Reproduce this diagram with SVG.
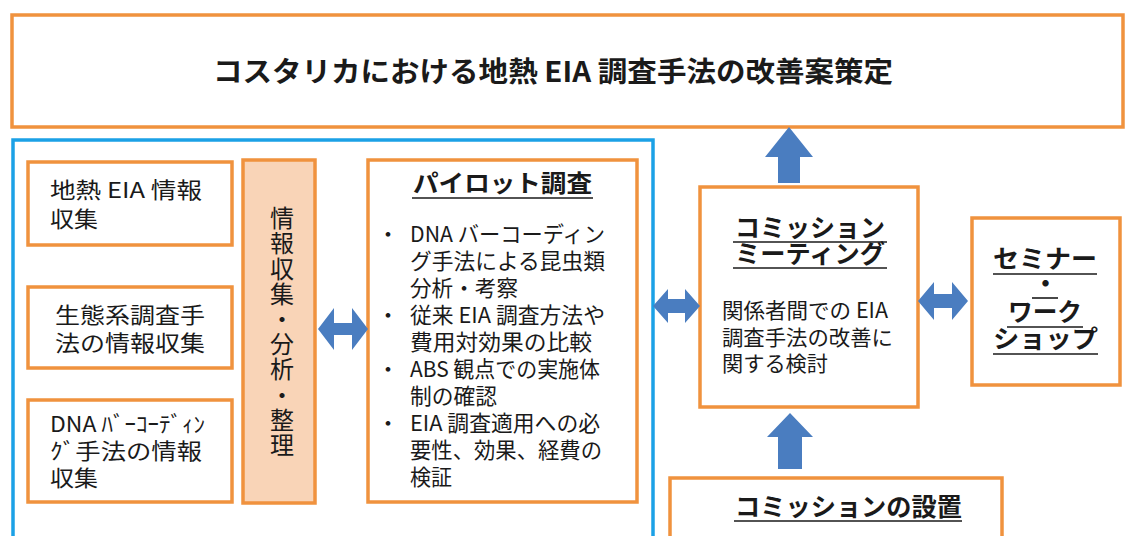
<svg xmlns="http://www.w3.org/2000/svg" width="1129" height="536" viewBox="0 0 1129 536">
<style>
.box{fill:#ffffff;stroke:#F0923E;stroke-width:3.5}
.peach{fill:#F9D4B7;stroke:#F0923E;stroke-width:3.5}
.frame{fill:none;stroke:#1BA1E6;stroke-width:3.5}
.arrow{fill:#4A7DC0}
.ul{stroke:#1a1a1a;stroke-width:1.6}
text{font-family:"Noto Sans CJK JP","Noto Sans CJK SC",sans-serif;fill:#1a1a1a}
.t{font-size:22px}
.b{font-weight:bold}
</style>
<rect width="1129" height="536" fill="#ffffff"/>
<g id="frame"><rect class="frame" x="13" y="140" width="640" height="420"/></g>
<g id="title">
<rect class="box" x="12" y="15" width="1111" height="112"/>
<text x="213" y="82" font-size="28" class="b" textLength="680" lengthAdjust="spacingAndGlyphs">コスタリカにおける地熱 EIA 調査手法の改善案策定</text>
</g>
<g id="geo-eia">
<rect class="box" x="28" y="162" width="204" height="83"/>
<text class="t"><tspan x="50" y="198" textLength="152" lengthAdjust="spacingAndGlyphs">地熱 EIA 情報</tspan><tspan x="50" y="227" textLength="48" lengthAdjust="spacingAndGlyphs">収集</tspan></text>
</g>
<g id="eco">
<rect class="box" x="28" y="287" width="204" height="81"/>
<text class="t"><tspan x="55" y="323" textLength="150" lengthAdjust="spacingAndGlyphs">生態系調査手</tspan><tspan x="55" y="351" textLength="150" lengthAdjust="spacingAndGlyphs">法の情報収集</tspan></text>
</g>
<g id="dna">
<rect class="box" x="28" y="400" width="204" height="102"/>
<text class="t"><tspan x="50" y="432" textLength="155" lengthAdjust="spacingAndGlyphs">DNA ﾊﾞｰｺｰﾃﾞｨﾝ</tspan><tspan x="50" y="459" textLength="152" lengthAdjust="spacingAndGlyphs">ｸﾞ手法の情報</tspan><tspan x="50" y="486" textLength="48" lengthAdjust="spacingAndGlyphs">収集</tspan></text>
</g>
<g id="analysis">
<rect class="peach" x="243" y="160" width="72" height="343"/>
<text x="282" y="206" font-size="24" style="writing-mode:vertical-rl" letter-spacing="1.2">情報収集・分析・整理</text>
</g>
<g id="pilot">
<rect class="box" x="368" y="160" width="269" height="342"/>
<text x="413" y="192" font-size="24" class="b" textLength="179" lengthAdjust="spacingAndGlyphs">パイロット調査</text>
<line class="ul" x1="412" y1="198" x2="593" y2="198"/>
<text class="t"><tspan x="377" y="242">・</tspan><tspan x="410" y="242" textLength="195" lengthAdjust="spacingAndGlyphs">DNA バーコーディン</tspan><tspan x="410" y="269" textLength="195" lengthAdjust="spacingAndGlyphs">グ手法による昆虫類</tspan><tspan x="410" y="296" textLength="108" lengthAdjust="spacingAndGlyphs">分析・考察</tspan><tspan x="377" y="323">・</tspan><tspan x="410" y="323" textLength="195" lengthAdjust="spacingAndGlyphs">従来 EIA 調査方法や</tspan><tspan x="410" y="350" textLength="182" lengthAdjust="spacingAndGlyphs">費用対効果の比較</tspan><tspan x="377" y="377">・</tspan><tspan x="410" y="377" textLength="190" lengthAdjust="spacingAndGlyphs">ABS 観点での実施体</tspan><tspan x="410" y="404" textLength="87" lengthAdjust="spacingAndGlyphs">制の確認</tspan><tspan x="377" y="431">・</tspan><tspan x="410" y="431" textLength="190" lengthAdjust="spacingAndGlyphs">EIA 調査適用への必</tspan><tspan x="410" y="458" textLength="192" lengthAdjust="spacingAndGlyphs">要性、効果、経費の</tspan><tspan x="410" y="485" textLength="42" lengthAdjust="spacingAndGlyphs">検証</tspan></text>
</g>
<g id="commission">
<rect class="box" x="700" y="187" width="218" height="220"/>
<text font-size="25" class="b"><tspan x="735" y="237" textLength="150" lengthAdjust="spacingAndGlyphs">コミッション</tspan><tspan x="735" y="263" textLength="150" lengthAdjust="spacingAndGlyphs">ミーティング</tspan></text>
<line class="ul" x1="733" y1="242" x2="887" y2="242"/>
<line class="ul" x1="733" y1="268" x2="887" y2="268"/>
<text font-size="21"><tspan x="722" y="318" textLength="166" lengthAdjust="spacingAndGlyphs">関係者間での EIA</tspan><tspan x="722" y="345" textLength="171" lengthAdjust="spacingAndGlyphs">調査手法の改善に</tspan><tspan x="722" y="371" textLength="106" lengthAdjust="spacingAndGlyphs">関する検討</tspan></text>
</g>
<g id="seminar">
<rect class="box" x="972" y="218" width="148" height="167"/>
<text font-size="25" class="b"><tspan x="993" y="268" textLength="104" lengthAdjust="spacingAndGlyphs">セミナー</tspan><tspan x="1033" y="293">・</tspan><tspan x="1008" y="321" textLength="74" lengthAdjust="spacingAndGlyphs">ワーク</tspan><tspan x="993" y="348" textLength="105" lengthAdjust="spacingAndGlyphs">ショップ</tspan></text>
<line class="ul" x1="993" y1="274" x2="1097" y2="274"/>
<line class="ul" x1="1032" y1="298" x2="1058" y2="298"/>
<line class="ul" x1="1007" y1="327" x2="1083" y2="327"/>
<line class="ul" x1="993" y1="354" x2="1098" y2="354"/>
</g>
<g id="setup">
<rect class="box" x="670" y="478" width="332" height="80"/>
<text x="735" y="516" font-size="25" class="b" textLength="227" lengthAdjust="spacingAndGlyphs">コミッションの設置</text>
<line class="ul" x1="734" y1="521" x2="962" y2="521"/>
</g>
<g id="connectors">
<polygon class="arrow" points="318,329 334,308 334,323 352,323 352,308 368,329 352,350 352,335 334,335 334,350"/>
<polygon class="arrow" points="653,306 668,289 668,299 685,299 685,289 700,306 685,323 685,313 668,313 668,323"/>
<polygon class="arrow" points="918,301 934,282 934,294 952,294 952,282 968,301 952,320 952,308 934,308 934,320"/>
<polygon class="arrow" points="789,127 813,157 800,157 800,183 778,183 778,157 765,157"/>
<polygon class="arrow" points="790,413 813,437 802,437 802,469 778,469 778,437 767,437"/>
</g>
</svg>
